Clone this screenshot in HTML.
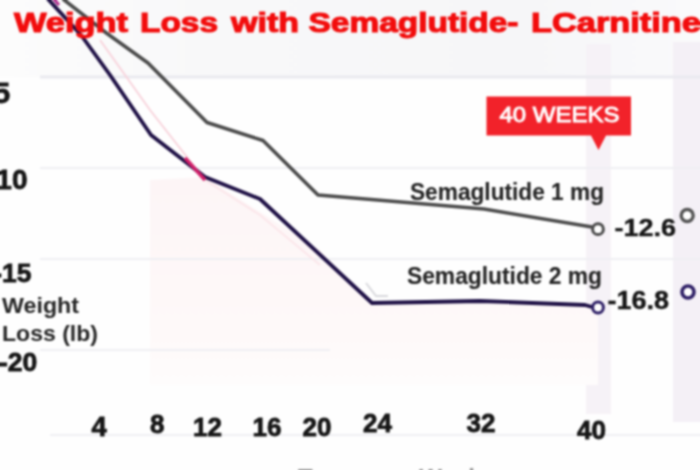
<!DOCTYPE html>
<html><head><meta charset="utf-8">
<style>
html,body{margin:0;padding:0;background:#fff;}
#c{position:relative;width:700px;height:470px;overflow:hidden;background:#fdfdfd;}
svg{position:absolute;left:0;top:0;}

text{font-family:"Liberation Sans",Arial,sans-serif;font-weight:bold;}
</style></head><body>
<div id="c">
<svg width="700" height="470" viewBox="0 0 700 470">
  <defs>
    <linearGradient id="pinkg" x1="0" y1="0" x2="0" y2="1"><stop offset="0" stop-color="#fdf5f6"/><stop offset="0.75" stop-color="#fef9f9"/><stop offset="1" stop-color="#fefcfc"/></linearGradient>
    <linearGradient id="topg" x1="0" y1="0" x2="1" y2="0"><stop offset="0" stop-color="#fcfcfc"/><stop offset="0.3" stop-color="#f8f8f9"/><stop offset="0.75" stop-color="#f6f6f8"/><stop offset="1" stop-color="#fafafb"/></linearGradient>
    <filter id="bl" x="0" y="0" width="700" height="470" filterUnits="userSpaceOnUse" color-interpolation-filters="sRGB"><feConvolveMatrix order="5" kernelMatrix="1 4 6 4 1 4 16 24 16 4 6 24 36 24 6 4 16 24 16 4 1 4 6 4 1" divisor="256" edgeMode="duplicate" preserveAlpha="false"/></filter>
  </defs><g filter="url(#bl)">
  <!-- background zones -->
  <rect x="0" y="0" width="700" height="77" fill="url(#topg)"/>
  <rect x="0" y="77" width="700" height="393" fill="#fefefe"/>
  <rect x="586" y="44" width="25" height="370" fill="#f6f2f7"/>
  <rect x="673" y="42" width="27" height="380" fill="#f4f0f6"/>
  <!-- faint pink area -->
  <polygon points="150,180 205,177 320,250 372,303 480,301 598,307 598,385 150,385" fill="url(#pinkg)"/>
  <!-- gridlines -->
  <g stroke="#efeff3" stroke-width="2">
    <line x1="40" y1="77" x2="700" y2="77" stroke-width="3" stroke="#eaeaef"/>
    <line x1="40" y1="168" x2="700" y2="168"/>
    <line x1="40" y1="259" x2="700" y2="259"/>
    <line x1="40" y1="350" x2="330" y2="350"/>
    <line x1="50" y1="435" x2="700" y2="435"/>
  </g>
  <g>
  <!-- faint pink line -->
  <polyline points="100,40 150,110 205,180" fill="none" stroke="#f8d4dc" stroke-width="2"/><polyline points="205,180 260,215 320,265" fill="none" stroke="#fbe6ea" stroke-width="2"/>
  <!-- gray line 1mg -->
  <polyline points="63,-1 107,33.5 148,63 207,122.5 263,140.5 318,195 484,209 592,227" fill="none" stroke="#4a4a4a" stroke-width="3.5" stroke-linejoin="round"/>
  <!-- dark line 2mg -->
  <polyline points="47,-2 81,35 110,75 151,135 205,177 260,199 372,303 480,301 585,305 592,307" fill="none" stroke="#1e1045" stroke-width="3.8" stroke-linejoin="round"/>
  <path d="M185,158 L205,180" stroke="#d0206a" stroke-width="3.5"/>
  <path d="M366,283 L376,296 L388,296" fill="none" stroke="#d8d8dc" stroke-width="2"/>
  <path d="M52,-3 L59,5" stroke="#b03090" stroke-width="3"/>
  <!-- end markers -->
  <circle cx="598" cy="229.2" r="5.4" fill="#fff" stroke="#4a4a4a" stroke-width="3"/>
  <circle cx="687.2" cy="215.5" r="6" fill="#fff" stroke="#555" stroke-width="3.4"/>
  <circle cx="598" cy="307.5" r="5.4" fill="#fff" stroke="#2e1f66" stroke-width="3"/>
  <circle cx="688" cy="292" r="6" fill="#fff" stroke="#2e1f66" stroke-width="3.6"/>
  <!-- badge -->
  <path d="M486.5,96.5 H631 V135.5 H606 L598.5,150 L591,135.5 H486.5 Z" fill="#f2222a"/>
  <text x="499.5" y="122" font-size="22.5" fill="#fff" stroke="#fff" stroke-width="0.9" style="font-weight:normal" textLength="120" lengthAdjust="spacingAndGlyphs">40 WEEKS</text>
  <!-- title -->
  <g fill="#f20c0c" stroke="#f20c0c" stroke-width="1.1" font-size="28.5">
    <text x="14" y="32" textLength="114" lengthAdjust="spacingAndGlyphs">Weight</text>
    <text x="140" y="32" textLength="78" lengthAdjust="spacingAndGlyphs">Loss</text>
    <text x="231" y="32" textLength="68" lengthAdjust="spacingAndGlyphs">with</text>
    <text x="308.5" y="32" textLength="210" lengthAdjust="spacingAndGlyphs">Semaglutide-</text>
    <text x="531" y="32" textLength="170" lengthAdjust="spacingAndGlyphs">LCarnitine</text>
  </g>
  <!-- y labels -->
  <g fill="#151515" stroke="#151515" stroke-width="0.8">
    <text x="-16.5" y="103" font-size="30">-5</text>
    <text x="-13" y="188.5" font-size="28">-10</text>
    <text x="-6.8" y="282.3" font-size="26.5">-15</text>
    <text x="-1" y="371" font-size="26.5">-20</text>
    <text x="2" y="313" font-size="21.5" textLength="77" lengthAdjust="spacingAndGlyphs" stroke="none" fill="#262626">Weight</text>
    <text x="2" y="340.6" font-size="21.5" textLength="96" lengthAdjust="spacingAndGlyphs" stroke="none" fill="#262626">Loss (lb)</text>
  </g>
  <!-- x labels -->
  <g fill="#151515" stroke="#151515" stroke-width="0.8" font-size="26">
    <text x="91.5" y="436" font-size="27.5">4</text>
    <text x="150" y="432.7">8</text>
    <text x="193" y="436">12</text>
    <text x="252.5" y="436">16</text>
    <text x="302.5" y="436">20</text>
    <text x="363" y="432">24</text>
    <text x="466.5" y="432.3">32</text>
    <text x="577" y="438.5">40</text>
  </g>
  <!-- series labels -->
  <g fill="#242424" stroke="#242424" stroke-width="0.1" font-size="23.6">
    <text x="410" y="199.5" textLength="194" lengthAdjust="spacingAndGlyphs">Semaglutide 1 mg</text>
    <text x="407" y="284.3" textLength="195" lengthAdjust="spacingAndGlyphs">Semaglutide 2 mg</text>
  </g>
  <g fill="#151515" stroke="#151515" stroke-width="0.4" font-size="24">
    <text x="614.5" y="235.5" textLength="61.5" lengthAdjust="spacingAndGlyphs">-12.6</text>
    <text x="607.5" y="309" font-size="25" textLength="61.5" lengthAdjust="spacingAndGlyphs">-16.8</text>
  </g>
  <!-- bottom cut-off axis title -->
  <text x="298" y="486" font-size="24" fill="#999">Treatment Weeks</text>
  </g>
</g></svg>
</div>
</body></html>
